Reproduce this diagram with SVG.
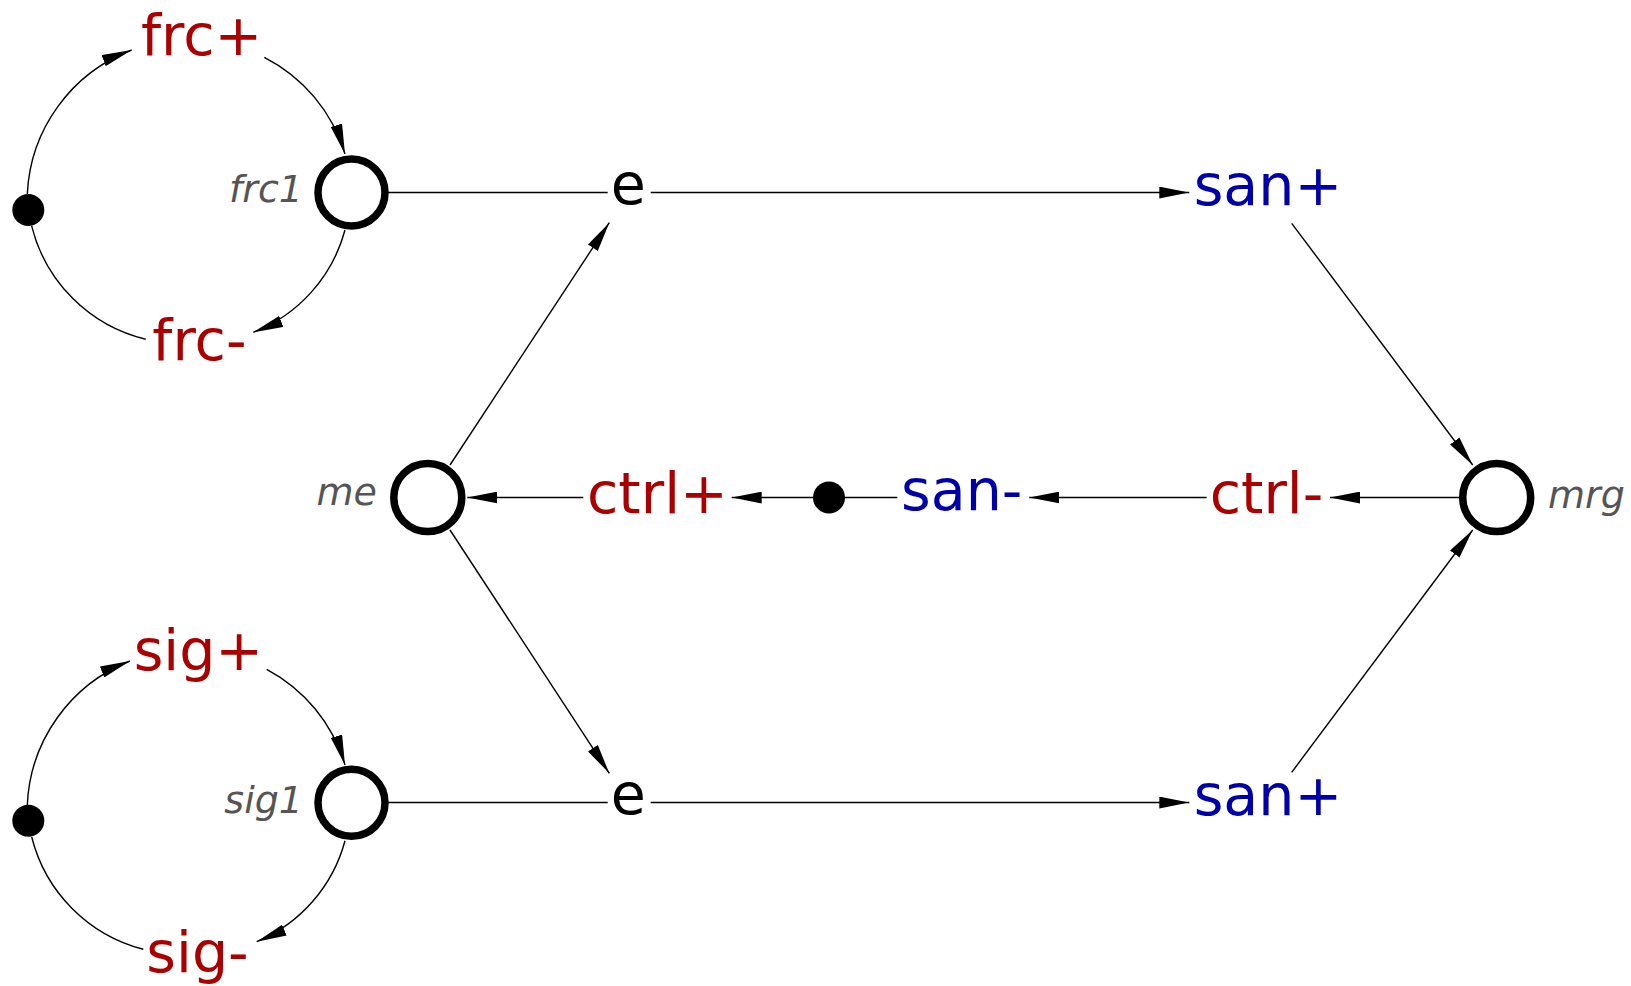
<svg xmlns="http://www.w3.org/2000/svg" width="1631" height="986" viewBox="0 0 1631 986">
<style>
.edge{fill:none;stroke:#000;stroke-width:1.4}
.arr{marker-end:url(#ah)}
.ring{fill:#fff;stroke:#000;stroke-width:7.5}
.dot{fill:#000}
.big{font-family:"DejaVu Sans",sans-serif;font-size:57px;text-anchor:middle}
.red{fill:#aa0000}
.blue{fill:#0000aa}
.blk{fill:#000}
.lab{font-family:"DejaVu Sans",sans-serif;font-style:italic;font-size:38px;fill:#555}
</style>
<defs>
<marker id="ah" markerUnits="userSpaceOnUse" markerWidth="30" markerHeight="12" viewBox="0 0 28 11" refX="28" refY="5.5" orient="auto">
<path d="M0,0 L28,5.5 L0,11 z" fill="#000"/>
</marker>
</defs>
<rect width="1631" height="986" fill="#fff"/>
<g id="connectors">
<path class="edge arr" d="M27.3,194 A162,162 0 0 1 131.7,50"/>
<path class="edge arr" d="M264.3,57.3 A160,160 0 0 1 345,154"/>
<path class="edge arr" d="M345,230 A152,152 0 0 1 253.3,332.3"/>
<path class="edge" d="M145.7,339.3 A155,155 0 0 1 31.7,226"/>
<path class="edge arr" d="M27.3,805 A162,162 0 0 1 130,661"/>
<path class="edge arr" d="M266.7,669.3 A160,160 0 0 1 345,765"/>
<path class="edge arr" d="M345,840.7 A152,152 0 0 1 256.7,941.7"/>
<path class="edge" d="M143.3,949.3 A155,155 0 0 1 31.7,837"/>
<path class="edge" d="M388,192.5 H607.7"/>
<path class="edge arr" d="M650.7,192.5 H1189.3"/>
<path class="edge arr" d="M450,465 L609.3,222.7"/>
<path class="edge arr" d="M450,530 L609.3,773.3"/>
<path class="edge" d="M388,802.5 H607.7"/>
<path class="edge arr" d="M650.7,802.5 H1189.3"/>
<path class="edge arr" d="M1291.7,223.3 L1472.7,465"/>
<path class="edge arr" d="M1291.7,772.3 L1472.7,530"/>
<path class="edge arr" d="M1459,497.5 H1330"/>
<path class="edge arr" d="M1206.7,497.5 H1029.3"/>
<path class="edge" d="M897.3,497.5 H829"/>
<path class="edge arr" d="M829,497.5 H731.7"/>
<path class="edge arr" d="M583.3,497.5 H467.3"/>
</g>
<g id="frc1"><circle class="ring" cx="351.5" cy="192.5" r="33.5"/><text class="lab" x="303" y="202" text-anchor="end">frc1</text></g>
<g id="sig1"><circle class="ring" cx="351.5" cy="802.8" r="33.5"/><text class="lab" x="303" y="813" text-anchor="end">sig1</text></g>
<g id="me"><circle class="ring" cx="427.8" cy="497.5" r="34"/><text class="lab" x="377" y="505" text-anchor="end">me</text></g>
<g id="mrg"><circle class="ring" cx="1496.7" cy="497.5" r="34"/><text class="lab" x="1548" y="508">mrg</text></g>
<g id="frc-dot"><circle class="dot" cx="28.3" cy="210" r="16"/></g>
<g id="sig-dot"><circle class="dot" cx="28.3" cy="820.7" r="16"/></g>
<g id="mid-dot"><circle class="dot" cx="829" cy="497.5" r="16"/></g>
<g id="frc-plus"><text class="big red" x="201.7" y="55">frc+</text></g>
<g id="frc-minus"><text class="big red" x="199.4" y="360">frc-</text></g>
<g id="sig-plus"><text class="big red" x="198.4" y="670">sig+</text></g>
<g id="sig-minus"><text class="big red" x="197.5" y="972">sig-</text></g>
<g id="e-top"><text class="big blk" x="628.3" y="204">e</text></g>
<g id="e-bottom"><text class="big blk" x="628.3" y="814">e</text></g>
<g id="san-plus-top"><text class="big blue" x="1267.9" y="204.5">san+</text></g>
<g id="san-plus-bottom"><text class="big blue" x="1267.9" y="814.5">san+</text></g>
<g id="ctrl-plus"><text class="big red" x="657.4" y="512.5">ctrl+</text></g>
<g id="ctrl-minus"><text class="big red" x="1266.5" y="512.5">ctrl-</text></g>
<g id="san-minus"><text class="big blue" x="961.7" y="510">san-</text></g>
</svg>
